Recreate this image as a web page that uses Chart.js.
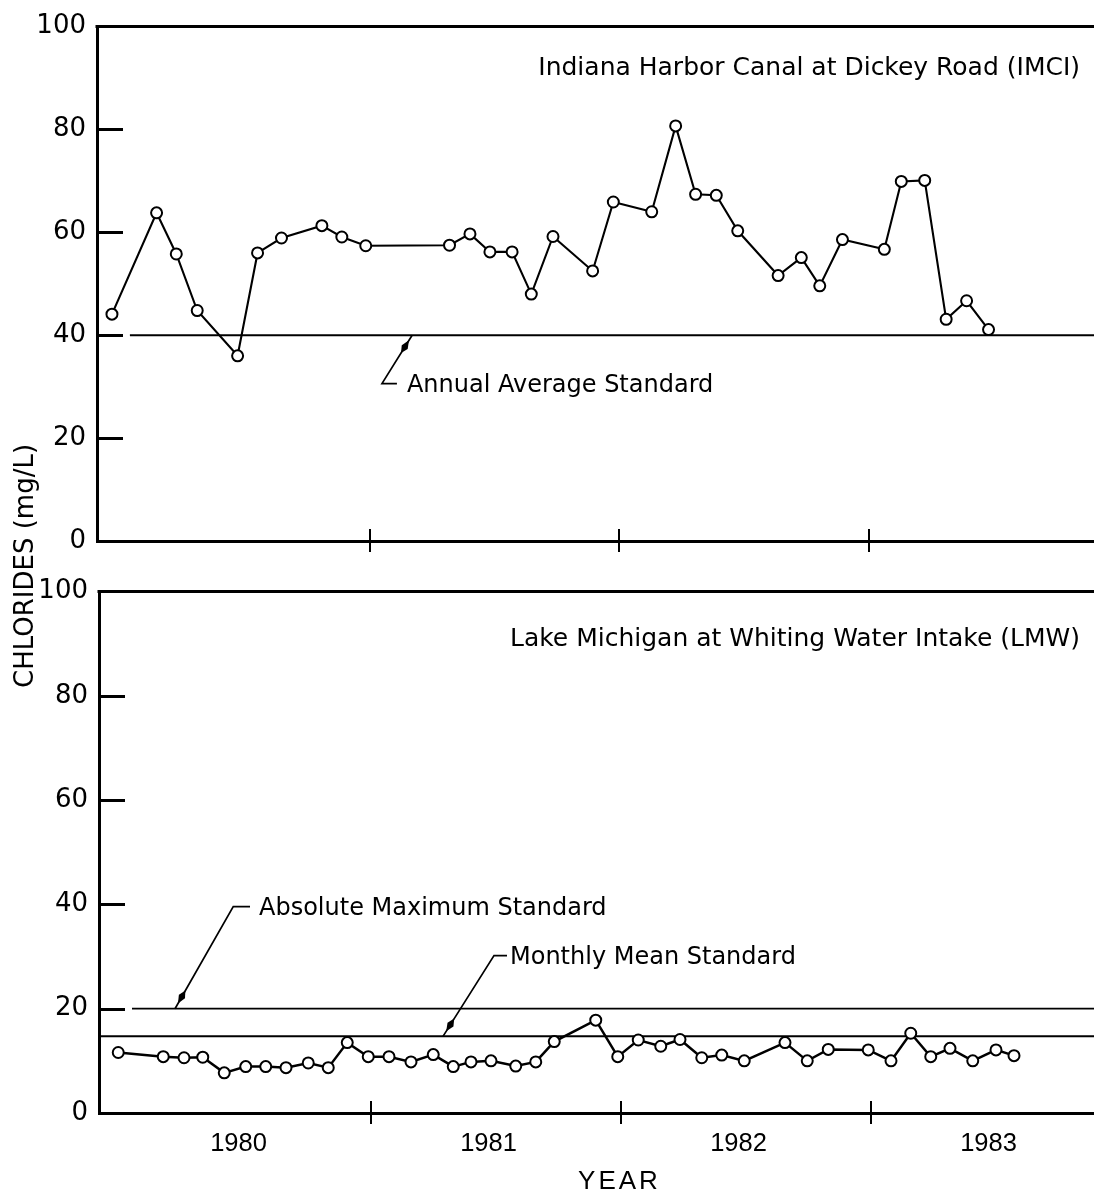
<!DOCTYPE html>
<html><head><meta charset="utf-8">
<script src="https://cdn.jsdelivr.net/npm/chart.js@4.4.1/dist/chart.umd.min.js"></script>
<style>
html,body{margin:0;padding:0;background:#fff;}
body{width:1094px;height:1191px;position:relative;overflow:hidden;}
canvas{position:absolute;left:0;}
#c1{top:0;}
#c2{top:565px;}
</style></head><body>
<canvas id="c1" width="1094" height="1191"></canvas>
<canvas id="c2" width="1094" height="626"></canvas>
<script>
// ---------- data ----------
const yearLabels = ['1980', '1981', '1982', '1983'];
const yearLabelPositions = [1980.47, 1981.47, 1982.47, 1983.47];
const yearBoundaries = [1981, 1982, 1983];
const yTickValues = [0, 20, 40, 60, 80, 100];
const yInnerTicks = [20, 40, 60, 80];

const imciYears = [1979.965,1980.144,1980.223,1980.307,1980.469,1980.549,1980.645,1980.807,1980.887,1980.983,1981.319,1981.401,1981.481,1981.570,1981.647,1981.734,1981.893,1981.976,1982.130,1982.226,1982.306,1982.389,1982.475,1982.637,1982.730,1982.804,1982.895,1983.063,1983.131,1983.225,1983.311,1983.393,1983.481];
const imciValues = [44.1,63.8,55.8,44.8,36.0,56.0,58.9,61.3,59.1,57.4,57.5,59.7,56.2,56.2,48.0,59.2,52.5,65.9,64.0,80.7,67.4,67.2,60.3,51.6,55.1,49.6,58.6,56.7,69.9,70.1,43.1,46.7,41.1];

const lmwYears = [1979.989,1980.169,1980.252,1980.327,1980.413,1980.499,1980.579,1980.660,1980.749,1980.829,1980.905,1980.989,1981.072,1981.160,1981.249,1981.329,1981.400,1981.480,1981.579,1981.659,1981.733,1981.899,1981.987,1982.069,1982.159,1982.236,1982.323,1982.403,1982.493,1982.656,1982.745,1982.829,1982.989,1983.080,1983.159,1983.239,1983.316,1983.407,1983.500,1983.572];
const lmwValues = [11.6,10.8,10.6,10.7,7.7,8.9,8.9,8.7,9.6,8.7,13.5,10.8,10.8,9.8,11.2,8.9,9.8,10.0,9.0,9.8,13.7,17.8,10.8,14.0,12.8,14.1,10.6,11.1,10.0,13.5,10.0,12.2,12.1,10.0,15.3,10.8,12.4,10.0,12.1,11.0];

const annualAverageStd = 40;
const absoluteMaxStd = 20;
const monthlyMeanStd = 14.7;
const annualStdSpan = [1980.037, 1984.2];
const absMaxStdSpan = [1980.044, 1984.2];
const monthlyStdSpan = [1979.912, 1984.2];

// ---------- helpers ----------
const DJ = "'DejaVu Sans', sans-serif";
const LIB = "'Liberation Sans', Arial, sans-serif";

function series(xs, ys, lw) {
  return { data: xs.map((x, i) => ({ x, y: ys[i] })), borderColor: '#000', borderWidth: lw,
    pointRadius: 5.5, pointBorderWidth: 2, pointBackgroundColor: '#fff', pointBorderColor: '#000',
    tension: 0, order: 0 };
}
function hline(span, v, lw) {
  return { data: span.map(x => ({ x, y: v })), borderColor: '#000', borderWidth: lw,
    pointRadius: 0, order: 1 };
}
function makeScales(c) {
  return {
    x: { type: 'linear', min: c.xmin, max: c.xmax,
      afterBuildTicks: s => { s.ticks = yearLabelPositions.map(v => ({ value: v })); },
      afterFit: s => { s.height = c.xh; },
      grid: { display: false, drawTicks: false },
      border: { display: true, color: '#000', width: 3 },
      ticks: { display: c.showYears, autoSkip: false, maxRotation: 0, minRotation: 0, color: '#000',
        padding: 16, font: { family: LIB, size: 25.5 }, callback: (v, i) => yearLabels[i] } },
    y: { min: 0, max: 100,
      afterBuildTicks: s => { s.ticks = yTickValues.map(v => ({ value: v })); },
      afterFit: s => { s.width = c.yw; },
      grid: { display: false, drawTicks: false },
      border: { display: true, color: '#000', width: 3 },
      ticks: { color: '#000', padding: 11, font: { family: DJ, size: 26 } } }
  };
}

const decor = {
  id: 'decor',
  afterDraw(chart, args, o) {
    const { ctx, chartArea: a, scales: { x, y } } = chart;
    const P = p => [x.getPixelForValue(p[0]), y.getPixelForValue(p[1])];
    ctx.save();
    ctx.strokeStyle = '#000'; ctx.fillStyle = '#000'; ctx.lineCap = 'butt';
    // top frame line
    ctx.lineWidth = 3;
    ctx.beginPath(); ctx.moveTo(a.left - 1.5, a.top); ctx.lineTo(chart.width, a.top); ctx.stroke();
    // inner y tick marks
    yInnerTicks.forEach(v => {
      const py = Math.round(y.getPixelForValue(v)) + 0.5;
      ctx.beginPath(); ctx.moveTo(a.left, py); ctx.lineTo(a.left + 26, py); ctx.stroke();
    });
    // year boundary marks
    ctx.lineWidth = 2;
    yearBoundaries.forEach(v => {
      const px = Math.round(x.getPixelForValue(v));
      ctx.beginPath(); ctx.moveTo(px, a.bottom - 12); ctx.lineTo(px, a.bottom + 11); ctx.stroke();
    });
    // texts
    (o.texts || []).forEach(t => {
      ctx.font = t.font; ctx.textBaseline = 'alphabetic';
      const [px, py] = P([t.x, t.y]);
      if (t.spacing) {
        const chars = t.text.split('');
        const ws = chars.map(ch => ctx.measureText(ch).width);
        const total = ws.reduce((s, w) => s + w, 0) + t.spacing * (chars.length - 1);
        let cx = px - total / 2;
        ctx.textAlign = 'left';
        chars.forEach((ch, i) => { ctx.fillText(ch, cx, py); cx += ws[i] + t.spacing; });
      } else {
        ctx.textAlign = t.align || 'left';
        ctx.fillText(t.text, px, py);
      }
    });
    // leader lines with arrow blobs
    ctx.lineWidth = 1.7;
    (o.leaders || []).forEach(L => {
      const pts = L.map(P);
      ctx.beginPath();
      pts.forEach((p, i) => i ? ctx.lineTo(p[0], p[1]) : ctx.moveTo(p[0], p[1]));
      ctx.stroke();
      const p0 = pts[0], p1 = pts[1];
      const dx = p1[0] - p0[0], dy = p1[1] - p0[1], len = Math.hypot(dx, dy);
      const ux = dx / len, uy = dy / len, nx = -uy, ny = ux;
      const Q = (t, s) => [p0[0] + ux * t + nx * s, p0[1] + uy * t + ny * s];
      const q = [Q(6, 0), Q(14, 3.5), Q(21, 0), Q(14, -3.5)];
      ctx.beginPath(); ctx.moveTo(q[0][0], q[0][1]);
      q.slice(1).forEach(p => ctx.lineTo(p[0], p[1]));
      ctx.closePath(); ctx.fill();
    });
    // shared y title
    if (o.yTitle) {
      ctx.save();
      ctx.translate(o.yTitle.px, o.yTitle.py);
      ctx.rotate(-Math.PI / 2);
      ctx.font = "26px " + DJ; ctx.textAlign = 'center'; ctx.textBaseline = 'alphabetic';
      ctx.fillText(o.yTitle.text, 0, 0);
      ctx.restore();
    }
    ctx.restore();
  }
};

const common = {
  responsive: false, animation: false, devicePixelRatio: 1, events: [],
};

new Chart(document.getElementById('c1'), {
  type: 'line',
  data: { datasets: [ series(imciYears, imciValues, 2.1), hline(annualStdSpan, annualAverageStd, 1.8) ] },
  options: Object.assign({}, common, {
    layout: { autoPadding: false, padding: { top: 15, left: 0, right: 0, bottom: 0 } },
    scales: makeScales({ xmin: 1979.905, xmax: 1983.904, xh: 650, yw: 97, showYears: false }),
    plugins: { legend: { display: false }, tooltip: { enabled: false },
      decor: {
        texts: [
          { text: 'Indiana Harbor Canal at Dickey Road (IMCI)', x: 1983.848, y: 90.5, align: 'right', font: '25px ' + DJ },
          { text: 'Annual Average Standard', x: 1981.148, y: 28.9, font: '24px ' + DJ }
        ],
        leaders: [ [[1981.169, annualAverageStd], [1981.048, 30.6], [1981.108, 30.6]] ],
        yTitle: { text: 'CHLORIDES (mg/L)', px: 33, py: 566 }
      } }
  }),
  plugins: [decor]
});

new Chart(document.getElementById('c2'), {
  type: 'line',
  data: { datasets: [ series(lmwYears, lmwValues, 2.5), hline(absMaxStdSpan, absoluteMaxStd, 1.8), hline(monthlyStdSpan, monthlyMeanStd, 2) ] },
  options: Object.assign({}, common, {
    layout: { autoPadding: false, padding: { top: 25, left: 0, right: 0, bottom: 0 } },
    scales: makeScales({ xmin: 1979.912, xmax: 1983.892, xh: 78, yw: 99, showYears: true }),
    plugins: { legend: { display: false }, tooltip: { enabled: false },
      decor: {
        texts: [
          { text: 'Lake Michigan at Whiting Water Intake (LMW)', x: 1983.836, y: 89.5, align: 'right', font: '25px ' + DJ },
          { text: 'Absolute Maximum Standard', x: 1980.552, y: 37.9, font: '24px ' + DJ },
          { text: 'Monthly Mean Standard', x: 1981.556, y: 28.5, font: '24px ' + DJ },
          { text: 'YEAR', x: 1981.988, y: -14.5, font: '26px ' + LIB, spacing: 3 }
        ],
        leaders: [
          [[1980.216, absoluteMaxStd], [1980.449, 39.6], [1980.516, 39.6]],
          [[1981.288, monthlyMeanStd], [1981.492, 30.2], [1981.544, 30.2]]
        ]
      } }
  }),
  plugins: [decor]
});
</script>
</body></html>
